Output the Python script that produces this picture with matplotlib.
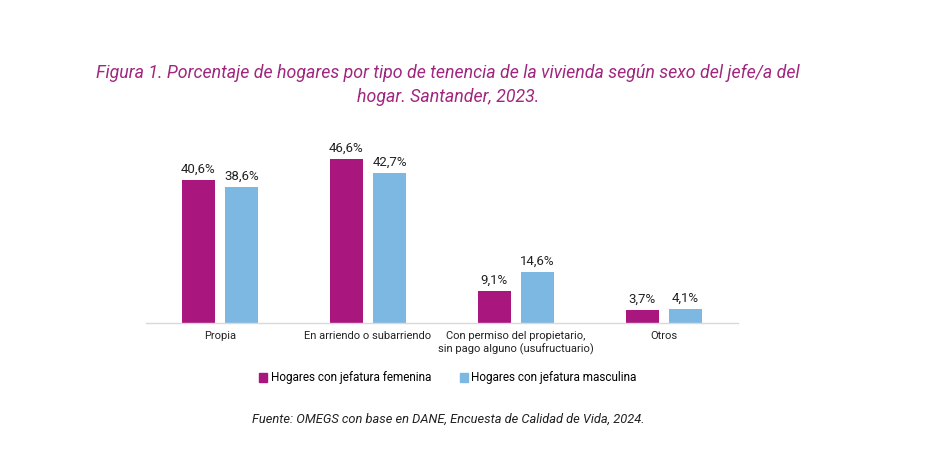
import matplotlib
matplotlib.use("Agg")
import matplotlib.pyplot as plt
import numpy as np
from matplotlib.patches import Rectangle

categories = ["Propia", "En arriendo o subarriendo",
              "Con permiso del propietario,\nsin pago alguno (usufructuario)", "Otros"]
femenina = [40.6, 46.6, 9.1, 3.7]
masculina = [38.6, 42.7, 14.6, 4.1]
series_names = ["Hogares con jefatura femenina", "Hogares con jefatura masculina"]

c_fem = "#A8167E"
c_mas = "#7DB8E3"

plt.rcParams['font.family'] = ['Roboto', 'DejaVu Sans']

fig = plt.figure(figsize=(9.28, 4.62), dpi=100)
ax = fig.add_axes([146/928, 1-323/462, 592/928, 176/462])

x = np.arange(len(categories))
w = 0.223
gap = 0.068
b1 = ax.bar(x - w/2 - gap/2, femenina, w, color=c_fem)
b2 = ax.bar(x + w/2 + gap/2, masculina, w, color=c_mas)

for bars, vals in ((b1, femenina), (b2, masculina)):
    for r, v in zip(bars, vals):
        ax.text(r.get_x() + r.get_width()/2, v + 1.2, f"{v:.1f}%".replace(".", ","),
                ha="center", va="bottom", fontsize=9.5, color="#222222")

ax.set_xlim(-0.5, len(categories) - 0.5)
ax.set_ylim(0, 50)
ax.set_xticks(x)
ax.set_xticklabels(categories, fontsize=8, color="#222222", linespacing=1.2)
ax.tick_params(axis="x", length=0, pad=6)
ax.set_yticks([])
for s in ["top", "right", "left"]:
    ax.spines[s].set_visible(False)
ax.spines["bottom"].set_color("#D9D9D9")
ax.spines["bottom"].set_linewidth(1)

fig.text(448/928, 1-73/462, "Figura 1. Porcentaje de hogares por tipo de tenencia de la vivienda según sexo del jefe/a del",
         ha="center", va="center", fontsize=12.8, style="italic", color="#A0267F")
fig.text(448/928, 1-97/462, "hogar. Santander, 2023.",
         ha="center", va="center", fontsize=12.8, style="italic", color="#A0267F")

# legend
fig.legend(handles=[Rectangle((0, 0), 1, 1, color=c_fem), Rectangle((0, 0), 1, 1, color=c_mas)],
           labels=series_names, loc="center", bbox_to_anchor=(448/928, 1-378/462),
           ncol=2, frameon=False, fontsize=8.5, handlelength=0.7, handleheight=0.7,
           handletextpad=0.3, columnspacing=2.4)

fig.text(448/928, 1-419/462, "Fuente: OMEGS con base en DANE, Encuesta de Calidad de Vida, 2024.",
         ha="center", va="center", fontsize=9.3, style="italic", color="#222222")

fig.savefig("out.png", dpi=100, facecolor="white")
